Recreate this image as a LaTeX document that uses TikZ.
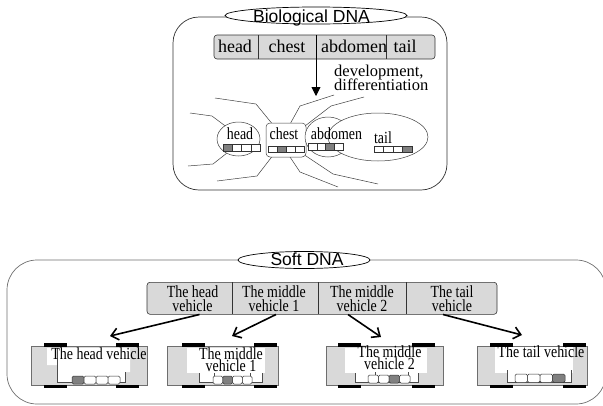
\documentclass[tikz,border=0pt]{standalone}
\usepackage{fontspec}
\setmainfont{Liberation Serif}
\newfontfamily\badgefont{Liberation Sans}
\newfontfamily\condserif[FakeStretch=0.82]{Liberation Serif}
\usetikzlibrary{arrows.meta}
\AtBeginDocument{\lineskiplimit=-50pt}

\definecolor{bargray}{HTML}{D9D9D9}
\definecolor{cellgray}{HTML}{808080}
\definecolor{edgegray}{HTML}{6E6E6E}

\tikzset{
  outerframe/.style={draw=edgegray, line width=0.7pt},
  dnabadge/.style={draw=black, fill=white, line width=0.7pt},
  badgetext/.style={inner sep=0pt, anchor=base, font=\badgefont\fontsize{17.5}{20}\selectfont},
  partbar/.style={draw=black!80, fill=bargray, line width=0.6pt, rounded corners=3pt},
  divider/.style={draw=black!80, line width=0.6pt},
  bigpart/.style={inner sep=0pt, anchor=base, font=\fontsize{18}{20}\selectfont},
  smallpart/.style={inner sep=0pt, anchor=base, font=\condserif\fontsize{17}{18}\selectfont},
  devnote/.style={inner sep=0pt, anchor=base west, font=\fontsize{16.5}{18}\selectfont},
  tentacle/.style={draw=black!75, line width=0.5pt},
  organ/.style={draw=black!75, fill=white, line width=0.5pt},
  genecell/.style={draw=black!80, line width=0.5pt},
  devarrow/.style={-{Triangle[length=9pt,width=9pt]}, line width=0.9pt},
  copyarrow/.style={-{Straight Barb[length=7pt,width=12pt]}, line width=1.6pt},
  segtext/.style={inner sep=0pt, align=center, minimum height=30.6pt, font=\condserif\fontsize{17}{13.7}\selectfont},
  carbody/.style={draw=edgegray, fill=bargray, line width=0.6pt},
  carwheel/.style={fill=black},
  carslot/.style={fill=white},
  slotline/.style={draw=black!70, line width=0.5pt},
  cartext/.style={inner sep=0pt, align=center, font=\condserif\fontsize{17}{11.8}\selectfont},
}

% four-cell gene strip: left x, top y, cell width, cell height, shaded cell, corner radius
\newcommand{\cellrow}[6]{%
  \foreach \c in {1,...,4}{%
    \ifnum\c=#5\relax\def\cellshade{cellgray}\else\def\cellshade{white}\fi
    \path[genecell, fill=\cellshade, rounded corners=#6] ({#1+(\c-1)*#3},#2) rectangle ++(#3,#4);
  }}

% car body with its four wheels: left, right, left wheel x, right wheel x
\newcommand{\carframe}[4]{%
  \draw[carbody] (#1,346) rectangle (#2,385);
  \fill[carwheel] (#3,343.2) rectangle ++(23,3.3);
  \fill[carwheel] (#4,343.2) rectangle ++(23,3.3);
  \fill[carwheel] (#3,385) rectangle ++(23,3.3);
  \fill[carwheel] (#4,385) rectangle ++(23,3.3);
}

\begin{document}
\begin{tikzpicture}[x=1pt,y=-1pt]
\useasboundingbox (0,0) rectangle (603,405);

% ---------------- biological DNA panel ----------------
\draw[outerframe, draw=black!80, rounded corners=26pt] (173,17) rectangle (447,190);
\draw[dnabadge] (316,15.5) ellipse [x radius=91pt, y radius=8.5pt];
\node[badgetext] (bio) at (311.5,22.5) {Biological DNA};

\draw[partbar] (214,35) rectangle (435,59);
\draw[divider] (258,35) -- (258,59) (386,35) -- (386,59);
\node[bigpart] (uhead) at (235,52) {head};
\node[bigpart] (uchest) at (287,52) {chest};
\node[bigpart] (uabd) at (354,52) {abdomen};
\node[bigpart] (utail) at (405,52) {tail};
\coordinate (devroot) at (316,35);
\coordinate (devtip) at (316,96);
\draw[devarrow] (devroot) -- (devtip);
\node[devnote] (dev1) at (334,76) {development,};
\node[devnote] (dev2) at (334,90) {differentiation};

% limbs and feelers
\draw[tentacle] (215,98) -- (256,104) -- (274,126);
\draw[tentacle] (190,113) -- (212,116) -- (228,128);
\draw[tentacle] (289,126) -- (300,106) -- (334,95);
\draw[tentacle] (305,126) -- (331,106) -- (364,97);
\draw[tentacle] (188,166) -- (213,164) -- (227,153);
\draw[tentacle] (217,181) -- (257,176) -- (274,154);
\draw[tentacle] (288,154) -- (300,172) -- (338,187);
\draw[tentacle] (303,154) -- (333,174) -- (378,184);

% body segments
\draw[organ] (238.5,139) ellipse [x radius=21.5pt, y radius=17pt];
\draw[organ, rounded corners=4pt] (266,123) rectangle (306,157);
\draw[organ] (328,137) ellipse [x radius=23pt, y radius=20pt];
\draw[organ] (378,137) ellipse [x radius=50pt, y radius=24pt];

\node[smallpart] (lhead) at (240,139) {head};
\node[smallpart] (lchest) at (284,139) {chest};
\node[smallpart] (labd) at (336.5,139) {abdomen};
\node[smallpart] (ltail) at (383,143) {tail};
\cellrow{223}{144}{9.25}{7}{1}{0pt}
\cellrow{268}{146}{9}{6.5}{2}{0pt}
\cellrow{308}{143}{8.75}{7}{3}{0pt}
\cellrow{374}{146}{9.5}{6.5}{4}{0pt}

% ---------------- soft DNA panel ----------------
\draw[outerframe, rounded corners=30pt] (7,260) rectangle (606,404);
\draw[dnabadge] (304,260) ellipse [x radius=66pt, y radius=8.5pt];
\node[badgetext] (soft) at (307,265) {Soft DNA};

\draw[partbar] (147,282.3) rectangle (497,314.3);
\draw[divider] (232.7,282.3) -- (232.7,314.3) (318.3,282.3) -- (318.3,314.3) (406.7,282.3) -- (406.7,314.3);
\node[segtext] (shead) at (192.5,299) {The head\\vehicle};
\node[segtext] (smid1) at (274,299) {The middle\\vehicle 1};
\node[segtext] (smid2) at (362,299) {The middle\\vehicle 2};
\node[segtext] (stail) at (452,299) {The tail\\vehicle};

% head vehicle
\carframe{31}{147}{44}{116}
\fill[carslot] (47,348) -- (130,348) -- (130,372) -- (125,372) -- (125,382) -- (57,382) -- (57,365) -- (47,365) -- cycle;
\draw[slotline] (57,348) -- (57,382) -- (125,382) -- (125,372);
\cellrow{72}{376}{12}{8}{1}{1.5pt}
\node[cartext, anchor=base] (vhead) at (99,359) {The head vehicle};

% middle vehicle 1
\carframe{167}{278}{182}{254}
\fill[carslot] (187,348) rectangle (265,373);
\fill[carslot] (199,372) rectangle (262,382);
\draw[slotline] (199,373) -- (199,382) -- (262,382) -- (262,373);
\draw[slotline] (214,373) -- (214,377) (250,373) -- (250,377);
\cellrow{213}{376}{9.75}{8}{2}{1.5pt}
\node[cartext] (vmid1) at (231,359.5) {The middle\\vehicle 1};

% middle vehicle 2
\carframe{326}{443}{338}{412}
\fill[carslot] (345,348) rectangle (427,373);
\fill[carslot] (355,372) rectangle (418,382);
\draw[slotline] (355,373) -- (355,382) -- (418,382) -- (418,373);
\draw[slotline] (375,372) -- (375,376) (408,372) -- (408,376);
\cellrow{368}{375}{10.5}{8}{3}{1.5pt}
\node[cartext] (vmid2) at (389.5,357.5) {The middle\\vehicle 2};

% tail vehicle
\carframe{477}{587}{490}{563}
\fill[carslot] (495,347) rectangle (573,373);
\fill[carslot] (507,372) rectangle (571,382);
\draw[slotline] (507,370) -- (507,382) -- (571,382) -- (571,370);
\cellrow{515}{374}{12.5}{8.5}{4}{1.5pt}
\node[cartext, anchor=base] (vtail) at (541,357) {The tail vehicle};

% copying each segment into its vehicle
\coordinate (tiphead) at (110,336);
\coordinate (tipmid1) at (232,336);
\coordinate (tipmid2) at (381,337);
\coordinate (tiptail) at (522,335);
\draw[copyarrow] ([xshift=7pt]shead.south) -- (tiphead);
\draw[copyarrow] ([xshift=2pt]smid1.south) -- (tipmid1);
\draw[copyarrow] ([xshift=-14pt]smid2.south) -- (tipmid2);
\draw[copyarrow] ([xshift=-9pt]stail.south) -- (tiptail);
\end{tikzpicture}
\end{document}
